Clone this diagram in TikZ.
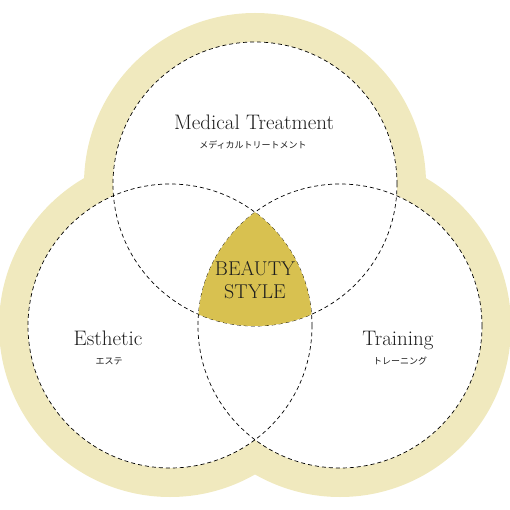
\documentclass[tikz,border=0pt]{standalone}
\usepackage{fontspec}
\newfontfamily\jpfont{Noto Sans CJK JP}
\definecolor{ringbeige}{RGB}{240,233,190}
\definecolor{beautygold}{RGB}{216,193,80}
\definecolor{labelgray}{RGB}{30,30,30}
\tikzset{bsdash/.style={draw=black,dash pattern=on 4pt off 3pt,line width=0.7pt},
         bsen/.style={font=\fontsize{21}{24}\selectfont,text=labelgray,inner sep=0pt,anchor=base},
         bsmid/.style={bsen,font=\fontsize{20}{24}\selectfont},
         bsjp/.style={font=\jpfont\fontsize{9}{10}\selectfont,text=labelgray,inner sep=0pt}}
\begin{document}
\begin{tikzpicture}[x=1pt,y=-1pt]
  \useasboundingbox (0,0) rectangle (510,510);
  \coordinate (med) at (255,184);
  \coordinate (est) at (170,326);
  \coordinate (tra) at (340,326);
  % ring, white discs, dashed outlines
  \foreach \p in {med,est,tra} \fill[ringbeige] (\p) circle (171pt);
  \foreach \p in {med,est,tra} \fill[white] (\p) circle (142pt);
  \foreach \p in {med,est,tra} \draw[bsdash] (\p) circle (142pt);
  % the common part
  \begin{scope}
    \clip (med) circle (142pt);
    \clip (est) circle (142pt);
    \fill[beautygold] (tra) circle (142pt);
  \end{scope}
  \node[bsen] (medname) at (254,130) {Medical Treatment};
  \node[bsjp] (medjp) at (253,145) {メディカルトリートメント};
  \node[bsen] (estname) at (108,345) {Esthetic};
  \node[bsjp] (estjp) at (109,361) {エステ};
  \node[bsen] (traname) at (398,345) {Training};
  \node[bsjp] (trajp) at (400,361) {トレーニング};
  \node[bsmid] (beauty) at (255,275) {BEAUTY};
  \node[bsmid] (style) at (255,298) {STYLE};
\end{tikzpicture}
\end{document}
